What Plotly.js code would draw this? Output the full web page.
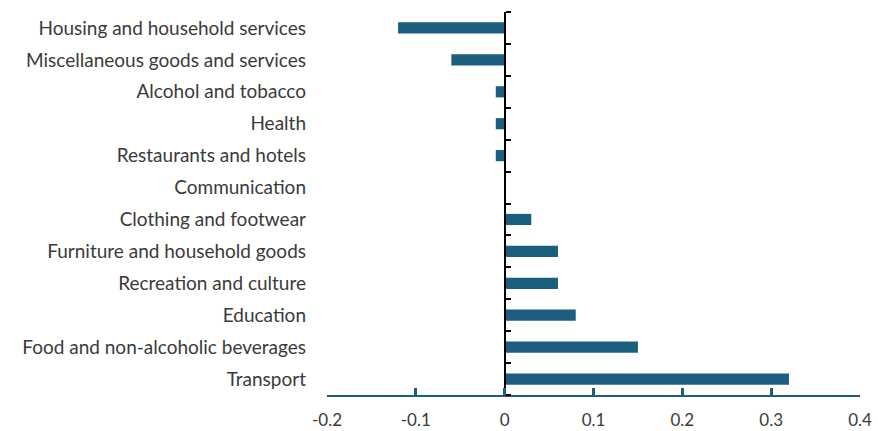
<!DOCTYPE html>
<html>
<head>
<meta charset="utf-8">
<script src="https://cdn.plot.ly/plotly-3.0.1.min.js"></script>
<style>
  html, body { margin: 0; padding: 0; background: #fff; }
  #myPlot { width: 878px; height: 431px; }
</style>
</head>
<body>
<div id="myPlot"></div>
<script>
// top to bottom
var categories = [
    "Housing and household services",
    "Miscellaneous goods and services",
    "Alcohol and tobacco",
    "Health",
    "Restaurants and hotels",
    "Communication",
    "Clothing and footwear",
    "Furniture and household goods",
    "Recreation and culture",
    "Education",
    "Food and non-alcoholic beverages",
    "Transport"
];
var values = [-0.12, -0.06, -0.01, -0.01, -0.01, 0, 0.03, 0.06, 0.06, 0.08, 0.15, 0.32];
var xTicks = [-0.2, -0.1, 0, 0.1, 0.2, 0.3, 0.4];
var xTickText = ["-0.2", "-0.1", "0", "0.1", "0.2", "0.3", "0.4"];

var barColor = "#1B5E7F";
var textColor = "#3a3a3a";

// category boundaries for the ticks on the line at zero
var bounds = [];
for (var i = 0; i <= categories.length; i++) bounds.push(i - 0.5);

var data = [
    {
        type: "bar",
        orientation: "h",
        y: categories,
        x: values,
        width: 0.35,
        marker: {color: barColor},
        hoverinfo: "x+y"
    },
    {
        // empty trace so the zero line axis gets drawn
        type: "scatter",
        mode: "markers",
        x: [null],
        y: [null],
        yaxis: "y2",
        showlegend: false,
        hoverinfo: "skip"
    }
];

var zeroPos = (0 - xTicks[0]) / (xTicks[xTicks.length - 1] - xTicks[0]);

var layout = {
    width: 878,
    height: 431,
    margin: {l: 327, r: 18, t: 12, b: 36},
    paper_bgcolor: "#fff",
    plot_bgcolor: "#fff",
    showlegend: false,
    font: {family: "Lato, 'Open Sans', sans-serif", size: 19, color: textColor},
    xaxis: {
        range: [-0.2, 0.4],
        tickvals: xTicks,
        ticktext: xTickText,
        showgrid: false,
        zeroline: false,
        showline: true,
        linecolor: barColor,
        linewidth: 2,
        ticks: "inside",
        ticklen: 7,
        tickwidth: 3,
        tickcolor: barColor,
        tickfont: {size: 17, color: textColor},
        ticklabelstandoff: 9
    },
    yaxis: {
        type: "category",
        range: [11.5, -0.5],
        showgrid: false,
        zeroline: false,
        showline: false,
        ticks: "",
        tickfont: {size: 19, color: textColor},
        ticklabelstandoff: 20
    },
    yaxis2: {
        overlaying: "y",
        anchor: "free",
        position: zeroPos,
        side: "right",
        range: [11.5, -0.5],
        tickvals: bounds,
        showticklabels: false,
        showgrid: false,
        zeroline: false,
        showline: true,
        linecolor: "#000",
        linewidth: 2,
        ticks: "outside",
        ticklen: 5,
        tickwidth: 2,
        tickcolor: "#000"
    },
    bargap: 0.6
};

Plotly.newPlot("myPlot", data, layout, {displayModeBar: false});
</script>
</body>
</html>
